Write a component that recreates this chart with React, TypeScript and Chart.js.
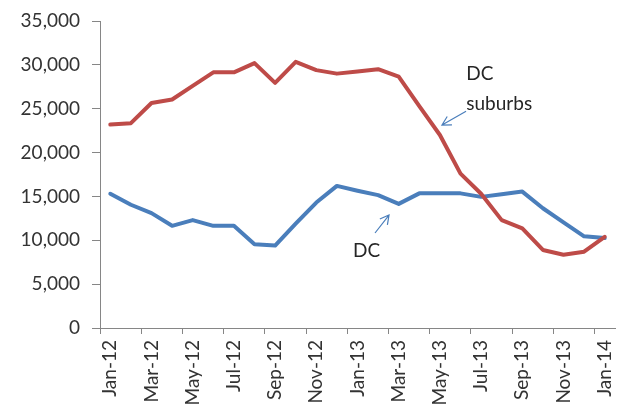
import { useEffect, useRef } from 'react';
import { Chart, registerables } from 'chart.js';

Chart.register(...registerables);

const months = [
  'Jan-12', 'Feb-12', 'Mar-12', 'Apr-12', 'May-12', 'Jun-12', 'Jul-12', 'Aug-12', 'Sep-12', 'Oct-12', 'Nov-12', 'Dec-12',
  'Jan-13', 'Feb-13', 'Mar-13', 'Apr-13', 'May-13', 'Jun-13', 'Jul-13', 'Aug-13', 'Sep-13', 'Oct-13', 'Nov-13', 'Dec-13',
  'Jan-14',
];

const dcSuburbs = [
  23200, 23350, 25650, 26050, 27600, 29150, 29150, 30200, 27950, 30350, 29400, 29000,
  29250, 29500, 28650, 25300, 22000, 17600, 15300, 12300, 11350, 8900, 8350, 8700,
  10400,
];

const dc = [
  15300, 14050, 13100, 11650, 12300, 11650, 11650, 9550, 9400, 11900, 14300, 16200,
  15650, 15150, 14150, 15350, 15350, 15350, 14950, 15250, 15550, 13650, 12050, 10450,
  10250,
];

const yMin = 0;
const yMax = 35000;
const yStep = 5000;

// annotation anchors in data units: [categoryIndex, value]
const dcLabelAt = [12.44, 8100];
const dcArrowFrom = [12.85, 10830];
const dcArrowTo = [13.53, 12880];
const subLabelAt = [17.28, 28275];
const subLabel2At = [17.28, 24900];
const subArrowFrom = [17.27, 24700];
const subArrowTo = [16.1, 23140];

const FONT = 'Lato, "Open Sans", sans-serif';
const AXIS = '#868686';
const SIZE = 19;

const annotationPlugin = {
  id: 'notes',
  afterDraw(chart: any) {
    const { ctx, scales } = chart;
    const px = (p: number[]) => [scales.x.getPixelForValue(p[0]), scales.y.getPixelForValue(p[1])];
    ctx.save();
    ctx.fillStyle = '#262626';
    ctx.font = `${SIZE}px ${FONT}`;
    ctx.textBaseline = 'alphabetic';
    ctx.textAlign = 'center';
    const a = px(dcLabelAt);
    ctx.fillText('DC', a[0], a[1]);
    ctx.textAlign = 'left';
    const b = px(subLabelAt);
    ctx.fillText('DC', b[0], b[1]);
    const c = px(subLabel2At);
    ctx.fillText('suburbs', c[0], c[1]);

    const arrow = (from: number[], to: number[]) => {
      const f = px(from);
      const t = px(to);
      const ang = Math.atan2(t[1] - f[1], t[0] - f[0]);
      const len = 10;
      const spread = 0.5;
      ctx.strokeStyle = '#4A7EBB';
      ctx.lineWidth = 1.2;
      ctx.beginPath();
      ctx.moveTo(f[0], f[1]);
      ctx.lineTo(t[0], t[1]);
      ctx.moveTo(t[0] - len * Math.cos(ang - spread), t[1] - len * Math.sin(ang - spread));
      ctx.lineTo(t[0], t[1]);
      ctx.lineTo(t[0] - len * Math.cos(ang + spread), t[1] - len * Math.sin(ang + spread));
      ctx.stroke();
    };
    arrow(dcArrowFrom, dcArrowTo);
    arrow(subArrowFrom, subArrowTo);
    ctx.restore();
  },
};

export default function App() {
  const ref = useRef<HTMLCanvasElement>(null);
  useEffect(() => {
    if (!ref.current) return;
    const chart = new Chart(ref.current, {
      type: 'line',
      data: {
        labels: months,
        datasets: [
          {
            label: 'DC suburbs',
            data: dcSuburbs,
            borderColor: '#BE4B48',
            borderWidth: 4,
            pointRadius: 0,
            tension: 0,
            borderJoinStyle: 'round',
            borderCapStyle: 'round',
          },
          {
            label: 'DC',
            data: dc,
            borderColor: '#4A7EBB',
            borderWidth: 4,
            pointRadius: 0,
            tension: 0,
            borderJoinStyle: 'round',
            borderCapStyle: 'round',
          },
        ],
      },
      options: {
        responsive: false,
        animation: false,
        layout: { padding: { top: 21, right: 9, left: 0, bottom: 0 } },
        plugins: { legend: { display: false }, tooltip: { enabled: false } },
        scales: {
          x: {
            offset: true,
            grid: {
              offset: true,
              drawOnChartArea: false,
              drawTicks: true,
              tickLength: 6,
              color: (c: any) => (c.index !== undefined && c.index % 2 === 0 ? AXIS : 'rgba(0,0,0,0)'),
            },
            border: { display: true, color: AXIS, width: 1 },
            ticks: {
              autoSkip: false,
              minRotation: 90,
              maxRotation: 90,
              padding: 6,
              color: '#333333',
              font: { family: FONT, size: SIZE },
              callback: (_v: any, i: number) => (i % 2 === 0 ? months[i] : ''),
            },
            afterFit: (s: any) => {
              s.height = 79;
              s.paddingLeft = 0;
              s.paddingRight = 0;
            },
          },
          y: {
            min: yMin,
            max: yMax,
            grid: { drawOnChartArea: false, drawTicks: true, tickLength: 8, color: AXIS },
            border: { display: true, color: AXIS, width: 1 },
            ticks: {
              stepSize: yStep,
              padding: 12,
              color: '#333333',
              font: { family: FONT, size: SIZE },
              callback: (v: any) => Number(v).toLocaleString('en-US'),
            },
            afterFit: (s: any) => {
              s.width = 100;
              s.paddingTop = 0;
              s.paddingBottom = 0;
            },
          },
        },
      },
      plugins: [annotationPlugin],
    });
    return () => chart.destroy();
  }, []);
  return (
    <div style={{ position: 'fixed', left: 0, top: 0, width: 624, height: 407, background: '#fff' }}>
      <canvas ref={ref} width={624} height={407} />
    </div>
  );
}
